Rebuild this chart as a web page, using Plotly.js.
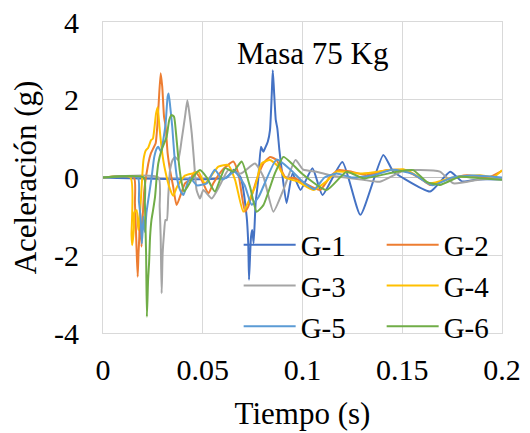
<!DOCTYPE html>
<html>
<head>
<meta charset="utf-8">
<script src="https://cdn.plot.ly/plotly-3.0.1.min.js"></script>
<style>html,body{margin:0;padding:0;background:#fff;}#chart{width:530px;height:433px;}</style>
</head>
<body>
<div id="chart"></div>
<script>
// Series names
const seriesNames = ["G-1", "G-2", "G-3", "G-4", "G-5", "G-6"];
// Tick labels
const xTickVals = [0, 0.05, 0.1, 0.15, 0.2];
const xTickText = ["0", "0.05", "0.1", "0.15", "0.2"];
const yTickVals = [-4, -2, 0, 2, 4];
const yTickText = ["-4", "-2", "0", "2", "4"];

// G-1
const t1 = [0, 0.062, 0.0655, 0.069, 0.072, 0.0728, 0.0732, 0.0737, 0.0742, 0.0748, 0.0755, 0.0765, 0.0778, 0.0792, 0.0804, 0.0812, 0.0826, 0.0837, 0.0846, 0.0851, 0.0857, 0.0866, 0.0874, 0.0884, 0.0896, 0.092, 0.095, 0.099, 0.105, 0.110, 0.120, 0.129, 0.1405, 0.1455, 0.150, 0.164, 0.174, 0.180, 0.188, 0.2];
const g1 = [0, 0, 0.2, 0.0, -1.0, -1.69, -2.63, -2.03, -1.52, -1.35, -1.69, -0.66, -0.06, 0.79, 0.66, 0.75, 0.92, 1.22, 2.16, 2.76, 2.25, 1.48, 1.26, 0.71, 0.19, -0.66, 0.1, -0.32, 0.24, -0.45, 0.4, -0.96, 0.58, 0.15, 0.0, -0.36, 0.15, -0.1, -0.05, -0.05];
// G-2
const t2 = [0, 0.0155, 0.016, 0.0165, 0.0169, 0.0174, 0.0178, 0.0182, 0.0185, 0.0193, 0.02, 0.0207, 0.0227, 0.024, 0.0252, 0.0264, 0.0272, 0.028, 0.0289, 0.0297, 0.0306, 0.0314, 0.0324, 0.0336, 0.0352, 0.0369, 0.0411, 0.0436, 0.046, 0.0494, 0.0528, 0.0553, 0.06, 0.0653, 0.0678, 0.0712, 0.0728, 0.077, 0.0804, 0.0837, 0.087, 0.0912, 0.0962, 0.1088, 0.1138, 0.118, 0.1246, 0.1321, 0.1422, 0.1505, 0.1589, 0.1639, 0.1723, 0.1823, 0.193, 0.2];
const g2 = [0, 0, -0.66, -1.35, -1.95, -2.55, -1.95, -1.52, -0.75, -1.78, -0.92, -0.32, 0.36, 0.62, 0.75, 0.88, 1.31, 1.99, 2.68, 2.33, 1.56, 1.31, 0.62, 0.19, -0.24, -0.71, -0.15, -0.06, 0.15, -0.06, -0.41, -0.15, 0.2, 0.41, 0.11, -0.88, -0.75, -0.06, 0.36, 0.53, 0.45, 0.02, -0.02, -0.32, 0.02, 0.19, 0.15, 0.06, 0.19, 0.19, -0.02, -0.19, -0.05, 0.06, 0.0, 0.17];
// G-3
const t3 = [0, 0.0278, 0.0284, 0.0289, 0.0294, 0.0299, 0.0306, 0.0313, 0.032, 0.0327, 0.0336, 0.0349, 0.0361, 0.0377, 0.0394, 0.0411, 0.0423, 0.0433, 0.0445, 0.0456, 0.0469, 0.0486, 0.0503, 0.0545, 0.0586, 0.0628, 0.069, 0.0762, 0.0804, 0.0854, 0.0904, 0.0965, 0.1004, 0.107, 0.1138, 0.1305, 0.1388, 0.1505, 0.1589, 0.1689, 0.1756, 0.189, 0.2];
const g3 = [0, 0, -0.75, -1.52, -2.98, -1.95, -1.43, -1.09, -1.1, -0.49, 0.19, 0.45, 0.53, 0.45, 0.96, 1.56, 1.99, 1.65, 1.13, 0.45, -0.32, -0.54, -0.32, -0.54, -0.2, 0.19, 0.1, 0.36, 0.02, -0.88, -0.32, 0.45, 0.2, 0.15, 0.06, -0.06, -0.11, 0.17, 0.19, 0.15, -0.15, -0.05, -0.02];
// G-4
const t4 = [0, 0.0138, 0.0143, 0.0146, 0.0155, 0.0157, 0.0169, 0.0177, 0.0185, 0.0193, 0.0203, 0.0215, 0.0226, 0.0241, 0.025, 0.0266, 0.0274, 0.0283, 0.0295, 0.0311, 0.0336, 0.0352, 0.037, 0.041, 0.0453, 0.0478, 0.0511, 0.0578, 0.0628, 0.0662, 0.0703, 0.0735, 0.0762, 0.0795, 0.0837, 0.0879, 0.0912, 0.0975, 0.1054, 0.112, 0.1171, 0.13, 0.1439, 0.1505, 0.1555, 0.1639, 0.1756, 0.189, 0.196, 0.2];
const g4 = [0, 0, -1.48, -1.74, -1.3, -0.9, -0.84, -1.35, -0.95, -0.3, 0.46, 0.7, 0.76, 0.96, 1.0, 1.65, 1.81, 1.3, 0.7, 0.2, -0.3, -0.47, -0.25, 0.05, 0.11, 0.15, -0.15, 0.28, 0.32, -0.06, -0.88, -0.55, -0.24, 0.36, 0.45, 0.28, 0.0, -0.1, -0.32, -0.1, 0.15, 0.1, 0.19, 0.21, 0.1, -0.15, 0.0, 0.06, 0.02, 0.19];
// G-5
const t5 = [0, 0.0175, 0.018, 0.0188, 0.0195, 0.0203, 0.021, 0.0218, 0.0235, 0.0244, 0.0257, 0.027, 0.0277, 0.0291, 0.0302, 0.0314, 0.0324, 0.0329, 0.0337, 0.0347, 0.0357, 0.037, 0.0386, 0.0403, 0.0435, 0.047, 0.052, 0.056, 0.06, 0.066, 0.071, 0.0745, 0.078, 0.087, 0.094, 0.1, 0.106, 0.111, 0.117, 0.125, 0.135, 0.145, 0.155, 0.165, 0.175, 0.185, 0.2];
const g5 = [0, 0, -0.6, -1.0, -1.7, -1.0, -1.4, -0.9, -0.3, 0.02, 0.53, 0.75, 0.79, 0.66, 0.96, 1.39, 2.08, 2.16, 1.82, 1.31, 0.62, 0.02, -0.32, -0.45, 0.0, -0.2, -0.15, 0.2, -0.05, 0.15, -0.2, -0.7, -0.5, 0.46, 0.2, -0.1, -0.3, 0.0, 0.1, 0.0, 0.05, 0.2, 0.1, -0.2, 0.0, 0.05, 0.0];
// G-6
const t6 = [0, 0.0205, 0.021, 0.0216, 0.022, 0.0226, 0.0231, 0.0236, 0.0243, 0.0251, 0.0261, 0.0269, 0.0277, 0.0294, 0.0319, 0.0332, 0.0344, 0.0356, 0.0366, 0.0377, 0.0389, 0.0406, 0.0428, 0.0453, 0.0486, 0.052, 0.0561, 0.0612, 0.0653, 0.0695, 0.0737, 0.077, 0.0804, 0.0862, 0.0904, 0.0946, 0.0995, 0.1121, 0.1221, 0.1305, 0.1472, 0.1555, 0.1622, 0.1689, 0.1789, 0.189, 0.2];
const g6 = [0, 0, -0.66, -1.95, -3.58, -2.63, -2.2, -1.52, -1.09, -0.84, -0.49, 0.0, 0.36, 0.71, 1.05, 1.48, 1.61, 1.56, 1.14, 0.53, 0.02, -0.36, -0.2, 0.02, 0.19, 0.0, -0.36, 0.24, 0.15, 0.41, -0.24, -0.88, -0.71, 0.11, 0.53, 0.36, 0.11, -0.32, 0.15, -0.02, 0.15, 0.19, -0.11, -0.19, 0.02, -0.02, -0.06];

const xs = [t1, t2, t3, t4, t5, t6];
const ys = [g1, g2, g3, g4, g5, g6];
const colors = ["#4472C4", "#ED7D31", "#A5A5A5", "#FFC000", "#5B9BD5", "#70AD47"];

const traces = seriesNames.map((n, i) => ({
  x: xs[i], y: ys[i], name: n, type: "scatter", mode: "lines",
  line: {color: colors[i], width: 2, shape: "spline", smoothing: 0.5}
}));

const font = "Times New Roman, Liberation Serif, DejaVu Serif, serif";
const layout = {
  width: 530, height: 433,
  margin: {l: 103, r: 28, t: 22, b: 100, autoexpand: false},
  paper_bgcolor: "#ffffff", plot_bgcolor: "#ffffff",
  font: {family: font, color: "#000", size: 29},
  title: {text: "Masa 75 Kg", font: {family: font, size: 31, color: "#000"}, x: 0.59, xanchor: "center", y: 0.878, yanchor: "middle"},
  showlegend: true,
  legend: {orientation: "h", x: 0.34, y: 0.365, xanchor: "left", yanchor: "top", bgcolor: "rgba(0,0,0,0)",
           font: {family: font, size: 29, color: "#000"}, entrywidth: 76, entrywidthmode: "pixels", itemwidth: 52, tracegroupgap: 0},
  xaxis: {range: [0, 0.2], tickvals: xTickVals, ticktext: xTickText, showgrid: true, gridcolor: "#D9D9D9", gridwidth: 1,
          zeroline: false, showline: true, linecolor: "#D9D9D9", mirror: true, ticks: "", ticklabelstandoff: 10,
          tickfont: {family: font, size: 30, color: "#000"},
          title: {text: "Tiempo (s)", font: {family: font, size: 31, color: "#000"}, standoff: 17}},
  yaxis: {range: [-4, 4], tickvals: yTickVals, ticktext: yTickText, showgrid: true, gridcolor: "#D9D9D9", gridwidth: 1,
          zeroline: true, zerolinecolor: "#BFBFBF", zerolinewidth: 1.5, showline: true, linecolor: "#D9D9D9", mirror: true,
          ticks: "", ticklabelstandoff: 17,
          tickfont: {family: font, size: 30, color: "#000"},
          title: {text: "Aceleración (g)", font: {family: font, size: 31, color: "#000"}, standoff: 8}}
};
Plotly.newPlot("chart", traces, layout, {displayModeBar: false, staticPlot: true});
</script>
</body>
</html>
